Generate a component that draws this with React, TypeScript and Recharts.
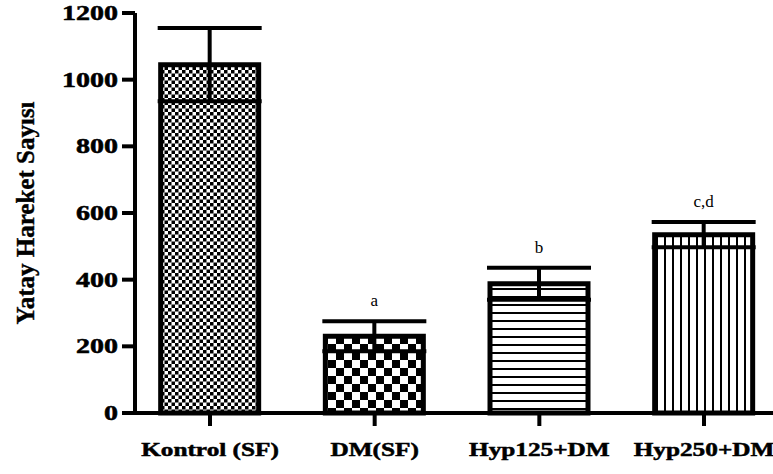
import React from "react";
import {
  Bar,
  BarChart,
  Cell,
  ErrorBar,
  LabelList,
  XAxis,
  YAxis,
} from "recharts";

// group names, means, SEM and significance letters
const categories = ["Kontrol (SF)", "DM(SF)", "Hyp125+DM", "Hyp250+DM"];
const means = [1045, 230, 388, 535];
const errors = [110, 45, 48, 38];
const letters = ["", "a", "b", "c,d"];
const fills = ["fineCheck", "bigCheck", "hLines", "vLines"];
const yTicks = [0, 200, 400, 600, 800, 1000, 1200];

const data = categories.map((name, i) => ({
  idx: i,
  name,
  mean: means[i],
  err: errors[i],
}));

const FONT = "'Liberation Serif', 'Times New Roman', serif";

const YTick = ({ x, y, payload }: any) => (
  <g transform={`translate(${x},${y}) scale(1.4,1)`}>
    <text
      x={0}
      y={0}
      dy={7}
      textAnchor="end"
      fontFamily={FONT}
      fontWeight="bold"
      fontSize={20}
      fill="#000"
      stroke="#000"
      strokeWidth={0.5}
    >
      {payload.value}
    </text>
  </g>
);

const XTick = ({ x, y, payload }: any) => (
  <g transform={`translate(${x},${y}) scale(1.33,1)`}>
    <text
      x={0}
      y={0}
      dy={28}
      textAnchor="middle"
      fontFamily={FONT}
      fontWeight="bold"
      fontSize={19}
      fill="#000"
      stroke="#000"
      strokeWidth={0.5}
    >
      {categories[payload.value]}
    </text>
  </g>
);

// letter sits above the upper whisker
const Letter = (props: any) => {
  const { x, y, width, height, value, index } = props;
  if (!letters[index]) return null;
  const pxPerUnit = height / value;
  const top = y - errors[index] * pxPerUnit;
  return (
    <text
      x={x + width / 2}
      y={top - 15}
      textAnchor="middle"
      fontFamily={FONT}
      fontSize={17}
      fill="#000"
    >
      {letters[index]}
    </text>
  );
};

export default function App() {
  return (
    <div style={{ position: "absolute", left: 0, top: 0, background: "#fff" }}>
      <BarChart
        width={773}
        height={474}
        data={data}
        margin={{ top: 13, right: 0, bottom: 0, left: 0 }}
      >
        <defs>
          <pattern id="fineCheck" patternUnits="userSpaceOnUse" width={7} height={7}>
            <rect width={7} height={7} fill="#fff" />
            <rect x={0} y={0} width={3.5} height={3.5} fill="#000" />
            <rect x={3.5} y={3.5} width={3.5} height={3.5} fill="#000" />
          </pattern>
          <pattern id="bigCheck" patternUnits="userSpaceOnUse" width={16} height={16}>
            <rect width={16} height={16} fill="#fff" />
            <rect x={0} y={0} width={8} height={8} fill="#000" />
            <rect x={8} y={8} width={8} height={8} fill="#000" />
          </pattern>
          <pattern id="hLines" patternUnits="userSpaceOnUse" width={8} height={8}>
            <rect width={8} height={8} fill="#fff" />
            <rect x={0} y={0} width={8} height={2} fill="#000" />
          </pattern>
          <pattern id="vLines" patternUnits="userSpaceOnUse" width={8} height={8}>
            <rect width={8} height={8} fill="#fff" />
            <rect x={0} y={0} width={2} height={8} fill="#000" />
          </pattern>
        </defs>
        <text
          transform="translate(34,213) rotate(-90)"
          textAnchor="middle"
          fontFamily={FONT}
          fontWeight="bold"
          fontSize={25}
          fill="#000"
          stroke="#000"
          strokeWidth={0.4}
        >
          Yatay Hareket Sayısı
        </text>
        <XAxis
          dataKey="idx"
          type="number"
          domain={[-0.4555, 3.419]}
          ticks={[0, 1, 2, 3]}
          allowDecimals={false}
          height={61}
          tickSize={13}
          tickMargin={2}
          axisLine={{ stroke: "#000", strokeWidth: 4 }}
          tickLine={{ stroke: "#000", strokeWidth: 4 }}
          tick={<XTick />}
        />
        <YAxis
          width={135}
          domain={[0, 1200]}
          ticks={yTicks}
          tickSize={13}
          tickMargin={4}
          axisLine={{ stroke: "#000", strokeWidth: 4 }}
          tickLine={{ stroke: "#000", strokeWidth: 4 }}
          tick={<YTick />}
        />
        <Bar
          dataKey="mean"
          barSize={98}
          stroke="#000"
          strokeWidth={5}
          isAnimationActive={false}
        >
          {data.map((d, i) => (
            <Cell key={d.name} fill={`url(#${fills[i]})`} />
          ))}
          <ErrorBar
            dataKey="err"
            width={52}
            stroke="#000"
            strokeWidth={4}
            direction="y"
          />
          <LabelList dataKey="mean" content={<Letter />} />
        </Bar>
      </BarChart>
    </div>
  );
}
